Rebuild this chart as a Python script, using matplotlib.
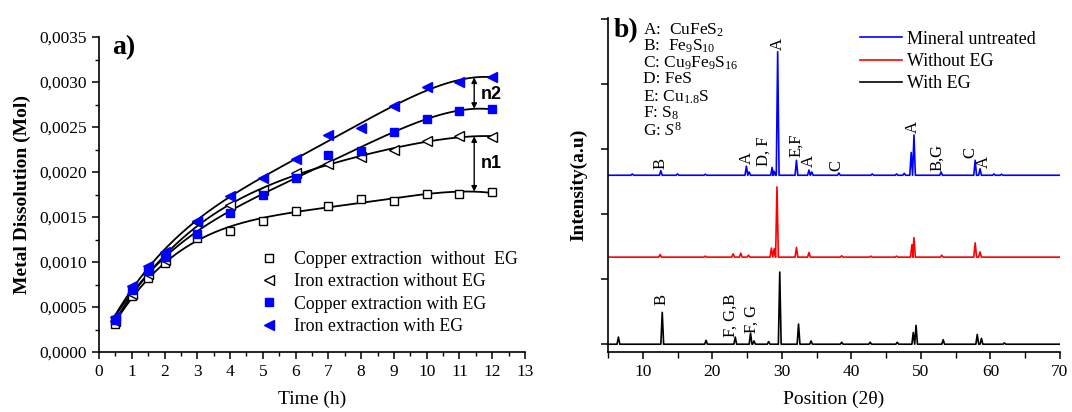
import numpy as np
import matplotlib
matplotlib.use("Agg")
import matplotlib.pyplot as plt
from matplotlib.ticker import MultipleLocator, FuncFormatter
from matplotlib.lines import Line2D

plt.rcParams['font.family'] = ['Liberation Serif', 'DejaVu Serif']
plt.rcParams['mathtext.fontset'] = 'custom'
plt.rcParams['mathtext.rm'] = 'Liberation Serif'
plt.rcParams['mathtext.it'] = 'Liberation Serif:italic'
plt.rcParams['mathtext.bf'] = 'Liberation Serif:bold'

# ---------------- Panel a data ----------------
time_h = [0.5, 1, 1.5, 2, 3, 4, 5, 6, 7, 8, 9, 10, 11, 12]
cu_without_eg = [0.00031, 0.00062, 0.00082, 0.00099, 0.00127, 0.00135, 0.00146,
                 0.00157, 0.00162, 0.00170, 0.00168, 0.00176, 0.00176, 0.00178]
fe_without_eg = [0.00035, 0.00065, 0.00087, 0.00102, 0.00145, 0.00163, 0.00180,
                 0.00199, 0.00209, 0.00217, 0.00224, 0.00235, 0.00240, 0.00239]
cu_with_eg = [0.00036, 0.00069, 0.00090, 0.00106, 0.00131, 0.00155, 0.00174,
              0.00193, 0.00219, 0.00223, 0.00244, 0.00259, 0.00268, 0.00270]
fe_with_eg = [0.000385, 0.00073, 0.00096, 0.00111, 0.00146, 0.00173, 0.00193,
              0.00214, 0.00241, 0.00249, 0.00273, 0.00294, 0.00300, 0.00306]
series_labels = ["Copper extraction  without  EG", "Iron extraction without EG",
                 "Copper extraction with EG", "Iron extraction with EG"]

# ---------------- Panel b data (peak positions 2θ, peak top intensity) ----------------
untreated_base = 2.60
untreated_pos = [8.5, 12.6, 15.0, 19.0, 24.9, 25.3, 28.6, 28.9, 29.4, 32.1, 33.9, 34.3,
                 38.2, 43.0, 46.5, 47.6, 48.6, 49.0, 52.9, 57.8, 58.5, 60.5, 61.6]
untreated_top = [2.62, 2.67, 2.62, 2.615, 2.74, 2.65, 2.72, 2.66, 4.50, 2.83, 2.68, 2.65,
                 2.635, 2.62, 2.62, 2.63, 2.95, 3.22, 2.65, 2.83, 2.70, 2.62, 2.615]
without_base = 1.34
without_pos = [12.5, 19.0, 23.0, 24.1, 25.2, 28.5, 28.9, 29.3, 32.1, 33.9, 38.6,
               42.8, 46.5, 48.7, 49.0, 53.0, 57.8, 58.5]
without_top = [1.38, 1.355, 1.39, 1.40, 1.37, 1.48, 1.47, 2.42, 1.49, 1.41, 1.36,
               1.355, 1.355, 1.53, 1.64, 1.37, 1.56, 1.42]
with_base = 0.0
with_pos = [6.5, 12.8, 19.1, 23.3, 25.5, 26.0, 28.1, 29.7, 32.4, 34.2, 38.6, 42.7,
            46.6, 48.9, 49.3, 53.2, 58.1, 58.7, 62.0]
with_top = [0.11, 0.49, 0.06, 0.11, 0.17, 0.05, 0.04, 1.11, 0.31, 0.05, 0.03, 0.03,
            0.03, 0.18, 0.29, 0.07, 0.15, 0.09, 0.02]
pattern_labels = ["Mineral untreated", "Without EG", "With EG"]
pattern_colors = ["#0000ff", "#ff0000", "#000000"]

# phase annotations: (2θ, y bottom, text)
untreated_marks = [(12.6, 2.70, "B"), (24.9, 2.77, "A"), (27.4, 2.75, "D, F"),
                   (29.4, 4.52, "A"), (32.1, 2.88, "E,F"), (33.9, 2.72, "A"),
                   (37.9, 2.66, "C"), (48.8, 3.25, "A"), (52.4, 2.66, "B,G"),
                   (57.1, 2.86, "C"), (59.1, 2.71, "A")]
with_marks = [(12.7, 0.60, "B"), (22.6, 0.11, "F, G,B"), (25.7, 0.17, "F, G")]

phase_legend = [r"A:  CuFeS$_2$", r"B:  Fe$_9$S$_{10}$", r"C: Cu$_9$Fe$_9$S$_{16}$",
                r"D: FeS", r"E: Cu$_{1.8}$S", r"F: S$_8$", r"G: $S^8$"]


def trace(base, pos, top, w=0.2, x0=5.0, x1=70.0):
    xs, ys = [x0], [base]
    for p, t in sorted(zip(pos, top)):
        xs += [p - w, p, p + w]
        ys += [base, t, base]
    xs.append(x1)
    ys.append(base)
    return xs, ys


fig = plt.figure(figsize=(10.72, 4.12), dpi=100)

# ================= Panel a =================
axa = fig.add_axes([99 / 1072, 60 / 412, 426 / 1072, 315 / 412])
t = np.array(time_h)
tfit = np.linspace(0.5, 12, 300)
styles = [
    dict(marker='s', mfc='white', mec='black', ms=6),
    dict(marker='<', mfc='white', mec='black', ms=7),
    dict(marker='s', mfc='#0000ff', mec='#0000ff', ms=6),
    dict(marker='<', mfc='#0000ff', mec='#0000ff', ms=7.5),
]
polys = []
handles = []
for data, st, lab in zip([cu_without_eg, fe_without_eg, cu_with_eg, fe_with_eg], styles, series_labels):
    y = np.array(data)
    c = np.polyfit(t, y, 4)
    polys.append(np.poly1d(c))
    axa.plot(tfit, np.polyval(c, tfit), color='black', lw=1.3, zorder=2)
    axa.plot(t, y, ls='none', mew=1.0, zorder=3, **st)
    handles.append(Line2D([], [], ls='none', mew=1.0, **st))

axa.set_xlim(0, 13)
axa.set_ylim(0, 0.0035)
axa.xaxis.set_major_locator(MultipleLocator(1))
axa.xaxis.set_minor_locator(MultipleLocator(0.5))
axa.yaxis.set_major_locator(MultipleLocator(0.0005))
axa.yaxis.set_minor_locator(MultipleLocator(0.00025))
axa.yaxis.set_major_formatter(FuncFormatter(lambda v, p: f"{v:.4f}".replace('.', ',')))
for s in ['top', 'right']:
    axa.spines[s].set_visible(False)
for s in ['left', 'bottom']:
    axa.spines[s].set_linewidth(1.2)
axa.tick_params(which='major', direction='out', length=5, width=1.1, labelsize=12.5)
axa.tick_params(which='minor', direction='out', length=3, width=1.0)
axa.set_xlabel("Time (h)", fontsize=14, labelpad=8)
axa.set_ylabel("Metal Dissolution (Mol)", fontsize=14, fontweight='bold', labelpad=6)
axa.text(0.03, 1.005, "a)", transform=axa.transAxes, fontsize=20, fontweight='bold',
         va='top', ha='left')

# n1 / n2 arrows
xa = 11.45
for top_i, bot_i, lab, ly in [(3, 2, "n2", 0.00286), (1, 0, "n1", 0.00210)]:
    ytop = polys[top_i](xa)
    ybot = polys[bot_i](xa)
    axa.annotate("", xy=(xa, ytop), xytext=(xa, ybot),
                 arrowprops=dict(arrowstyle='<|-|>', color='black', lw=1.0,
                                 mutation_scale=8, shrinkA=0, shrinkB=0))
    axa.text(11.65, ly, lab, fontsize=13, fontweight='bold', family='Liberation Sans',
             va='center', ha='left')

leg = axa.legend(handles, series_labels, loc='upper left', bbox_to_anchor=(0.345, 0.36),
                 frameon=False, fontsize=12.8, handlelength=1.2, handletextpad=0.8,
                 labelspacing=0.3, borderpad=0.2)

# ================= Panel b =================
axb = fig.add_axes([608 / 1072, 60 / 412, 452 / 1072, 334 / 412])
for base, pos, top, col, lab in [
        (untreated_base, untreated_pos, untreated_top, pattern_colors[0], pattern_labels[0]),
        (without_base, without_pos, without_top, pattern_colors[1], pattern_labels[1]),
        (with_base, with_pos, with_top, pattern_colors[2], pattern_labels[2])]:
    xs, ys = trace(base, pos, top)
    axb.plot(xs, ys, color=col, lw=1.2, label=lab)

axb.set_xlim(5, 70)
axb.set_ylim(-0.12, 5.02)
axb.xaxis.set_major_locator(MultipleLocator(10))
axb.xaxis.set_minor_locator(MultipleLocator(5))
axb.yaxis.set_major_locator(MultipleLocator(1))
axb.tick_params(axis='y', labelleft=False)
for s in ['top', 'right']:
    axb.spines[s].set_visible(False)
for s in ['left', 'bottom']:
    axb.spines[s].set_linewidth(1.2)
axb.tick_params(which='major', direction='out', length=5, width=1.1, labelsize=12.5)
axb.tick_params(which='minor', direction='out', length=4, width=1.0)
axb.set_xlabel("Position (2θ)", fontsize=14, labelpad=8)
axb.set_ylabel("Intensity(a.u)", fontsize=14, fontweight='bold', labelpad=10)
axb.text(0.012, 1.0, "b)", transform=axb.transAxes, fontsize=20, fontweight='bold',
         va='top', ha='left')

for x, yb, txt in untreated_marks + with_marks:
    axb.text(x, yb, txt, rotation=90, ha='center', va='bottom', fontsize=12)

for i, txt in enumerate(phase_legend):
    axb.text(0.078, 0.99 - i * 0.05, txt, transform=axb.transAxes, fontsize=12.5,
             va='top', ha='left')

axb.legend(loc='upper left', bbox_to_anchor=(0.53, 1.0), frameon=False, fontsize=13,
           handlelength=2.3, handletextpad=0.3, labelspacing=0.3, borderpad=0.2)

fig.savefig("out.png", dpi=100)
